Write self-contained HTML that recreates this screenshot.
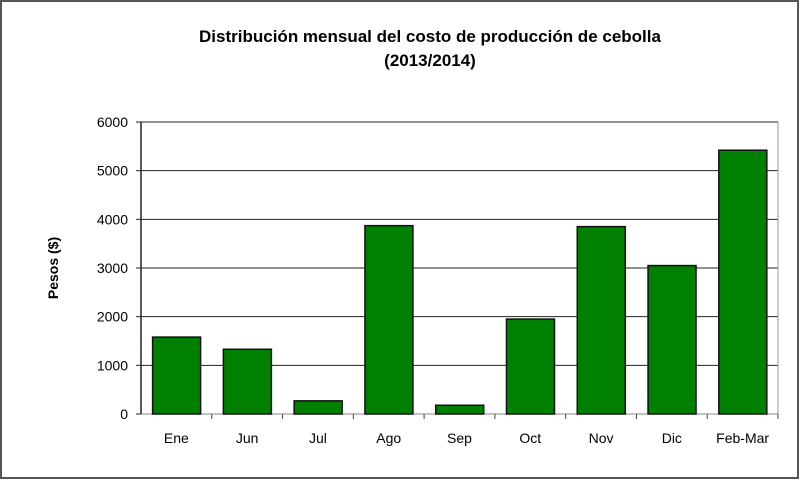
<!DOCTYPE html>
<html><head><meta charset="utf-8"><style>
body{margin:0;width:800px;height:480px;overflow:hidden;background:#fff;font-family:"Liberation Sans",sans-serif}
</style></head><body>
<svg width="800" height="480">
<rect x="1" y="1" width="797" height="477" fill="#fff" stroke="#555" stroke-width="2"/>
<text x="430" y="42" text-anchor="middle" font-size="17" font-weight="bold">Distribución mensual del costo de producción de cebolla</text>
<text x="430" y="66" text-anchor="middle" font-size="17" font-weight="bold">(2013/2014)</text>
<text transform="translate(58,268) rotate(-90)" text-anchor="middle" font-size="14" font-weight="bold">Pesos ($)</text>
<g id="grid"></g><g id="bars"></g><g id="axes"></g>
</svg>
<script>
const categories=["Ene","Jun","Jul","Ago","Sep","Oct","Nov","Dic","Feb-Mar"];
const values=[1580,1330,270,3870,180,1950,3850,3050,5420];
const ticks=[0,1000,2000,3000,4000,5000,6000];
const NS="http://www.w3.org/2000/svg";
const L=141,R=778,T=122,B=414,ymax=6000;
const y=v=>B-(v/ymax)*(B-T);
const cw=(R-L)/categories.length;
const x=i=>L+i*cw;
function mk(p,t,a){const e=document.createElementNS(NS,t);for(const k in a)e.setAttribute(k,a[k]);document.getElementById(p).appendChild(e);return e;}
ticks.forEach(t=>{
 const g=mk("grid","line",{x1:L,x2:R,y1:y(t),y2:y(t),stroke:t==0?"#888":"#222","stroke-width":1});
 
 
 const tl=mk("grid","line",{x1:L-5,x2:L,y1:y(t),y2:y(t),stroke:"#222"});
 
 
 const lb=mk("axes","text",{x:L-13,y:y(t)+5,"text-anchor":"end","font-size":14});
 lb.textContent=t;
 
 
});
mk("axes","line",{x1:L,x2:L,y1:T,y2:B,stroke:"#222","stroke-width":1.5});
mk("axes","line",{x1:R,x2:R,y1:T,y2:B,stroke:"#999"});
categories.forEach((c,i)=>{
 const b=mk("bars","rect",{x:x(i)+11.6,y:y(values[i]),width:48,height:B-y(values[i]),fill:"#008000",stroke:"#111","stroke-width":1.5});
 
 
 const tk=mk("axes","line",{x1:x(i+1),x2:x(i+1),y1:B,y2:B+5,stroke:"#444"});
 
 
 const lb=mk("axes","text",{x:x(i)+cw/2,y:B+29,"text-anchor":"middle","font-size":14});
 lb.textContent=c;
 
 
});
</script>
</body></html>
